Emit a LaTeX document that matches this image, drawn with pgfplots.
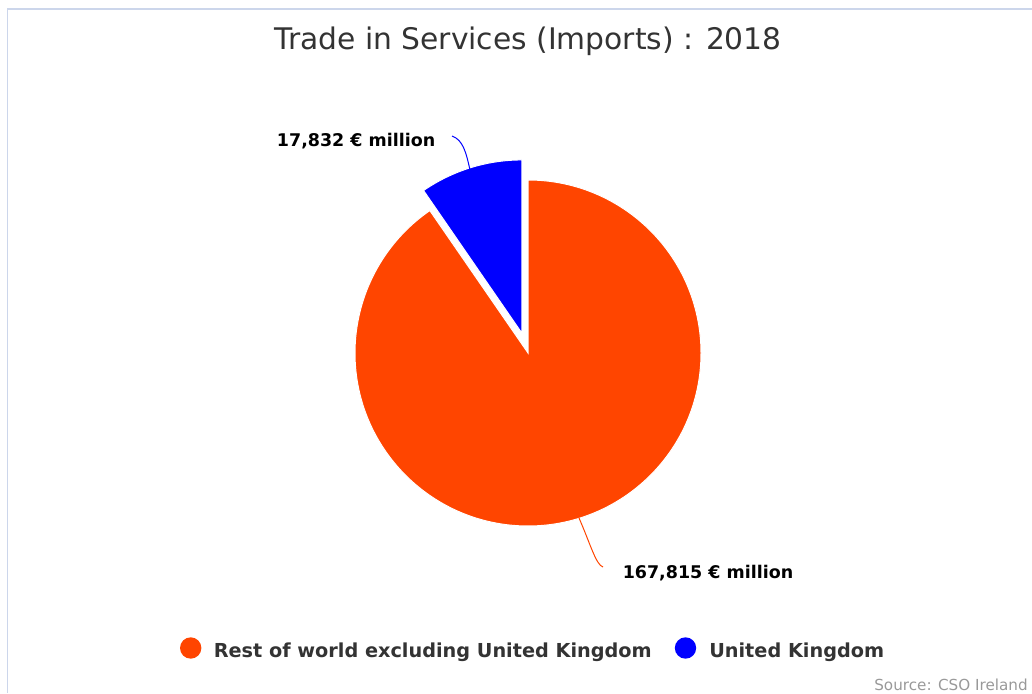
\documentclass[border=0pt]{standalone}
\usepackage{fontspec}
\usepackage{pgfplots}
\usepackage{pgfplotstable}
\pgfplotsset{compat=1.18}
\setmainfont{DejaVu Sans}

\definecolor{restcol}{HTML}{FF4500}
\definecolor{ukcol}{HTML}{0000FF}
\definecolor{framecol}{HTML}{CCD6EB}
\definecolor{textcol}{HTML}{333333}
\definecolor{srccol}{HTML}{999999}

% imports of services, 2018, EUR million
\pgfplotstableread{
region value
Rest 167815
UK 17832
}\importsdata

\pgfplotstablegetelem{0}{value}\of\importsdata \edef\vRest{\pgfplotsretval}
\pgfplotstablegetelem{1}{value}\of\importsdata \edef\vUK{\pgfplotsretval}
% slices start at the top and run clockwise: rest first, then UK
\edef\aUKend{\fpeval{90+360*\vUK/(\vUK+\vRest)}}
\edef\aRestend{\fpeval{90-360*\vRest/(\vUK+\vRest)}}
\edef\aUKmid{\fpeval{90+180*\vUK/(\vUK+\vRest)}}

\def\pr{129.75pt}   % pie radius (173px)
\def\poff{15.75pt}  % sliced offset (21px)

\begin{document}
\begin{tikzpicture}
\begin{axis}[
    scale only axis,
    width=774pt, height=519.75pt,
    xmin=0, xmax=1032, ymin=0, ymax=693,
    hide axis, clip=false,
]
\coordinate (sw) at (rel axis cs:0,0);
\coordinate (ne) at (rel axis cs:1,1);

% frame
\draw[framecol, line width=1pt] (axis cs:7.7,0) -- (axis cs:7.7,684) -- (axis cs:1032,684);

% title
\node[anchor=base, inner sep=0, text=textcol, font=\fontsize{22.3pt}{26pt}\selectfont]
    at (axis cs:528,643) {Trade in Services (Imports) : 2018};

% slices
\fill[restcol, draw=white, line width=0.75pt] (axis cs:528,340) -- ++(90:\pr)
    arc[start angle=90, end angle=\aRestend, radius=\pr] -- cycle;
\fill[ukcol, draw=white, line width=0.75pt] ([shift={(\aUKmid:\poff)}]axis cs:528,340) -- ++(90:\pr)
    arc[start angle=90, end angle=\aUKend, radius=\pr] -- cycle;

% data labels
\draw[ukcol, line width=0.75pt] (axis cs:470,523) .. controls (axis cs:466,541) and (axis cs:463,553) .. (axis cs:452,557);
\node[anchor=base east, inner sep=0, font=\bfseries\fontsize{13.1pt}{16pt}\selectfont]
    at (axis cs:435.5,546.5) {17,832 € million};
\draw[restcol, line width=0.75pt] (axis cs:579,175) .. controls (axis cs:590,150) and (axis cs:596,128) .. (axis cs:603,126);
\node[anchor=base west, inner sep=0, font=\bfseries\fontsize{13.1pt}{16pt}\selectfont]
    at (axis cs:622.5,114) {167,815 € million};

% legend
\fill[restcol] (axis cs:190.7,45) circle (8pt);
\node[anchor=base west, inner sep=0, text=textcol, font=\bfseries\fontsize{14.45pt}{17pt}\selectfont]
    at (axis cs:213.5,36) {Rest of world excluding United Kingdom};
\fill[ukcol] (axis cs:685.5,45) circle (8pt);
\node[anchor=base west, inner sep=0, text=textcol, font=\bfseries\fontsize{14.45pt}{17pt}\selectfont]
    at (axis cs:709,36) {United Kingdom};

% credit
\node[anchor=base east, inner sep=0, text=srccol, font=\fontsize{11.4pt}{14pt}\selectfont]
    at (axis cs:1028,2.5) {Source: CSO Ireland};
\end{axis}
\pgfresetboundingbox
\useasboundingbox (sw) rectangle (ne);
\end{tikzpicture}
\end{document}
